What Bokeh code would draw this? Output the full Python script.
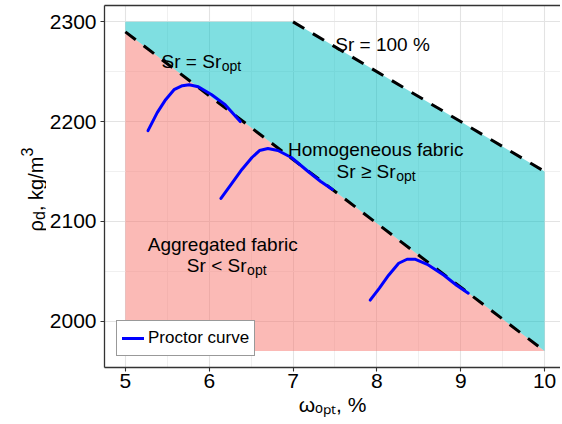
from math import pi
from bokeh.plotting import figure
from bokeh.layouts import row
from bokeh.models import Label, FixedTicker, ColumnDataSource, LinearAxis
from bokeh.embed import file_html
from bokeh.resources import INLINE

# ---- data ----
w_min, w_max = 5.0, 10.0            # omega_opt domain (%)
rho_min, rho_max = 1970, 2300       # rho_d domain (kg/m3)
sr_opt_x = [5.0, 10.0]              # Sr = Sr_opt line
sr_opt_y = [2290, 1970]
sr100_x = [7.0, 10.0]               # Sr = 100 % line
sr100_y = [2300, 2150]

proctor1_x = [5.27, 5.38, 5.48, 5.58, 5.68, 5.76, 5.87, 6.03, 6.19, 6.37]
proctor1_y = [2191, 2209, 2222, 2232, 2236, 2237, 2235, 2227, 2217, 2200]
proctor2_x = [6.14, 6.27, 6.39, 6.51, 6.60, 6.70, 6.82, 6.98, 7.18, 7.33, 7.47]
proctor2_y = [2123, 2138, 2152, 2164, 2171, 2173, 2171, 2164, 2150, 2140, 2132]
proctor3_x = [7.92, 8.03, 8.14, 8.26, 8.36, 8.46, 8.60, 8.80, 8.95, 9.09]
proctor3_y = [2021, 2033, 2046, 2058, 2062, 2062, 2057, 2046, 2036, 2028]

x_ticks = [5, 6, 7, 8, 9, 10]
y_ticks = [2000, 2100, 2200, 2300]

FONT = "Liberation Sans"
FRAME = "#333333"
B_TOP, B_BOTTOM = 5, 56
H = 423
YLAB_W = 46

p = figure(width=560 - YLAB_W, height=H, x_range=(4.751, 10.19), y_range=(1953.5, 2316.4),
           output_backend="svg", toolbar_location=None,
           min_border_left=102 - YLAB_W, min_border_right=0, min_border_top=B_TOP,
           min_border_bottom=B_BOTTOM,
           background_fill_color="white", border_fill_color="white")

# regions
pink_x = [w_min, sr_opt_x[0], sr_opt_x[1], w_min]
pink_y = [rho_min, sr_opt_y[0], sr_opt_y[1], rho_min]
cyan_x = [w_min, sr100_x[0], sr100_x[1], sr_opt_x[1], sr_opt_x[0]]
cyan_y = [rho_max, sr100_y[0], sr100_y[1], sr_opt_y[1], sr_opt_y[0]]
p.patch(pink_x, pink_y, fill_color="#F8766D", fill_alpha=0.5, line_color=None)
p.patch(cyan_x, cyan_y, fill_color="#00BFC4", fill_alpha=0.5, line_color=None)

# boundary lines
p.line(sr_opt_x, sr_opt_y, line_color="black", line_width=3, line_dash="13 10")
p.line(sr100_x, sr100_y, line_color="black", line_width=3, line_dash="13 10")

# proctor curves
src = ColumnDataSource(dict(xs=[proctor1_x, proctor2_x, proctor3_x],
                            ys=[proctor1_y, proctor2_y, proctor3_y]))
p.multi_line("xs", "ys", source=src, line_color="blue", line_width=3,
             line_join="round", line_cap="round", legend_label="Proctor curve")

# axes
def mids(t):
    return [(a + b) / 2 for a, b in zip(t, t[1:])]

p.xaxis.ticker = FixedTicker(ticks=x_ticks, minor_ticks=mids(x_ticks))
p.yaxis.ticker = FixedTicker(ticks=y_ticks, minor_ticks=mids(y_ticks))
p.yaxis.axis_label = None
p.axis.axis_line_color = FRAME
p.axis.axis_line_width = 1.3
p.axis.major_tick_out = 4
p.axis.major_tick_in = 0
p.axis.major_tick_line_color = FRAME
p.axis.major_tick_line_width = 1.1
p.axis.minor_tick_line_color = None
p.axis.major_label_text_font = FONT
p.axis.major_label_text_font_size = "21px"
p.axis.major_label_text_color = "black"
p.xaxis.major_label_standoff = 2
p.yaxis.major_label_standoff = 4

p.xaxis.axis_label = "\u03c9\u2092\u209a\u209c, %"
p.xaxis.axis_label_text_font = FONT
p.xaxis.axis_label_text_font_size = "21px"
p.xaxis.axis_label_text_font_style = "normal"
p.xaxis.axis_label_text_color = "black"
p.xaxis.axis_label_standoff = 2

# top edge of the panel (no right edge in the reference)
top_axis = LinearAxis(ticker=FixedTicker(ticks=[]), axis_line_color=FRAME,
                      axis_line_width=1.3, major_tick_line_color=None,
                      minor_tick_line_color=None, major_label_text_font_size="0px")
p.add_layout(top_axis, "above")

p.grid.grid_line_color = "#E3E3E3"
p.grid.grid_line_width = 1.1
p.grid.minor_grid_line_color = "#F0F0F0"
p.grid.minor_grid_line_width = 1

p.outline_line_color = None

# legend
lg = p.legend[0]
lg.location = (12, 11)
lg.margin = 0
lg.padding = 5
lg.spacing = 0
lg.glyph_width = 22
lg.glyph_height = 24
lg.label_height = 24
lg.label_standoff = 4
lg.label_text_font = FONT
lg.label_text_font_size = "17px"
lg.label_text_color = "black"
lg.border_line_color = FRAME
lg.border_line_width = 1
lg.background_fill_alpha = 1


def txt(fig, x, y, s, size="19px", align="left", units="data", angle=0):
    fig.add_layout(Label(x=x, y=y, text=s, x_units=units, y_units=units,
                         text_font=FONT, text_font_size=size, text_color="black",
                         text_align=align, text_baseline="alphabetic", angle=angle))


# in-plot texts
txt(p, 6.143, 2260.1, "Sr = Sr", align="right")
txt(p, 6.150, 2255.6, "opt", size="14px")
txt(p, 7.504, 2277.2, "Sr = 100 %")
txt(p, 7.986, 2171.8, "Homogeneous fabric", align="center")
txt(p, 8.223, 2150.0, "Sr \u2265 Sr", align="right")
txt(p, 8.230, 2145.7, "opt", size="14px")
txt(p, 6.161, 2077.1, "Aggregated fabric", align="center")
txt(p, 6.445, 2056.0, "Sr < Sr", align="right")
txt(p, 6.452, 2051.3, "opt", size="14px")

# y-axis title panel: its frame spans the same rows as the main frame
# (screen units: x from frame left, y from frame bottom)
ylab = figure(width=YLAB_W, height=H, output_backend="svg", toolbar_location=None,
              x_range=(0, 1), y_range=(0, 1), x_axis_location=None, y_axis_location=None,
              min_border=0, min_border_left=0, min_border_right=0,
              min_border_top=B_TOP, min_border_bottom=B_BOTTOM,
              background_fill_color="white", border_fill_color="white")
ylab.grid.visible = False
ylab.outline_line_color = None
txt(ylab, 35, 136, "\u03c1", size="20px", units="screen", angle=pi / 2)
txt(ylab, 39, 147.6, "d", size="16px", units="screen", angle=pi / 2)
txt(ylab, 35, 156.5, ", kg/m", size="20px", units="screen", angle=pi / 2)
txt(ylab, 26, 211, "3", size="16px", units="screen", angle=pi / 2)

layout = row(ylab, p)

open("out.html", "w").write(file_html(layout, INLINE))
